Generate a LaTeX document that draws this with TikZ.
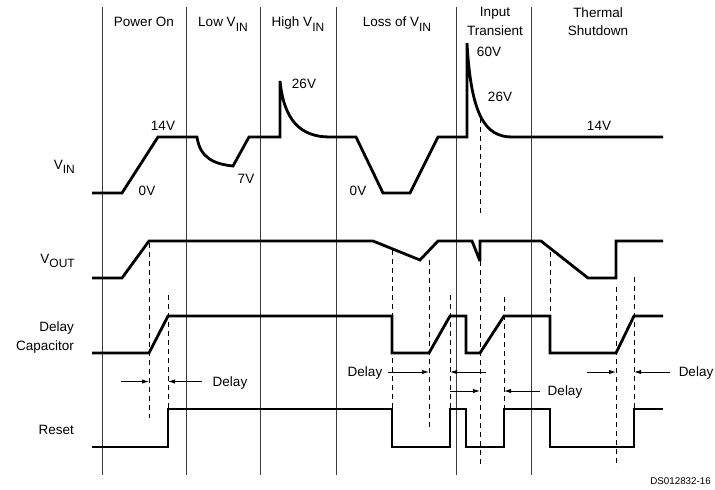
\documentclass[tikz,border=0pt]{standalone}
\usepackage{fontspec}
\setmainfont{Liberation Sans}
\usetikzlibrary{arrows.meta}
\definecolor{ink}{HTML}{000000}
\definecolor{ink2}{HTML}{3C3C3C}
\tikzset{
  >={Latex[length=7pt,width=4.4pt]},
  trace/.style={draw=ink, line width=2.8pt, line join=miter, miter limit=2.5},
  sep/.style={draw=ink2, line width=1pt},
  guide/.style={draw=ink, line width=0.9pt, dash pattern=on 5pt off 4pt},
  dlyarr/.style={->, draw=ink, line width=0.9pt},
  lbl/.style={font=\fontsize{13.5}{16}\selectfont, text=ink, inner sep=0pt, anchor=base},
  siglbl/.style={lbl, anchor=base east},
  tag/.style={font=\fontsize{9.8}{11}\selectfont, text=ink, inner sep=0pt, anchor=base east},
}
\newcommand{\lowsub}[1]{\raisebox{-4.5pt}{\fontsize{12}{14}\selectfont #1}}

\begin{document}
\begin{tikzpicture}[x=1pt, y=-1pt]
  \fill[white] (0,0) rectangle (715,490);
  \useasboundingbox (0,0) rectangle (715,490);

  % ---------------- phase separators ----------------
  \draw[sep] (102.7,7) -- (102.7,475);
  \draw[sep] (186.7,7) -- (186.7,475);
  \draw[sep] (260.7,7) -- (260.7,475);
  \draw[sep] (336,7) -- (336,475);
  \draw[sep] (456.7,7) -- (456.7,475);
  \draw[sep] (531.7,7) -- (531.7,475);

  % ---------------- phase headings ----------------
  \node[lbl] (pwr) at (144,26.7) {Power On};
  \node[lbl] (lowv) at (223,26.7) {Low V\lowsub{IN}};
  \node[lbl] (highv) at (298,26.7) {High V\lowsub{IN}};
  \node[lbl] (lossv) at (397,26.7) {Loss of V\lowsub{IN}};
  \node[lbl] (inp) at (495,16.7) {Input};
  \node[lbl] (trn) at (495,35) {Transient};
  \node[lbl] (thm) at (598,17.3) {Thermal};
  \node[lbl] (shd) at (598,35) {Shutdown};

  % ---------------- signal names ----------------
  \node[siglbl] (vin) at (75,169) {V\lowsub{IN}};
  \node[siglbl] (vout) at (75,263) {V\lowsub{OUT}};
  \node[siglbl] (dcap) at (74,331.7) {Delay};
  \node[siglbl] (dcap2) at (74,350) {Capacitor};
  \node[siglbl] (rst) at (74,434) {Reset};

  % ---------------- timing guides ----------------
  \draw[guide] (149,243) -- (149,418);
  \draw[guide] (168,295) -- (168,408);
  \draw[guide] (392,250) -- (392,408);
  \draw[guide] (429,260) -- (429,428);
  \draw[guide] (450,295) -- (450,408);
  \draw[guide] (480,118) -- (480,213);
  \draw[guide] (480,261) -- (480,466);
  \draw[guide] (504,297) -- (504,408);
  \draw[guide] (550,252) -- (550,316);
  \draw[guide] (616,287) -- (616,467);
  \draw[guide] (634,277) -- (634,410);

  % ---------------- V_IN ----------------
  \draw[trace] (92,193) -- (122,193) -- (158,137) -- (197,137)
    .. controls (200,158) and (214,164) .. (233,166) -- (249,137) -- (280,137)
    -- (280,81) .. controls (284,120) and (300,137) .. (330,137)
    -- (356,137) -- (383,193) -- (410,193) -- (438,137) -- (467,137)
    -- (467,43) .. controls (471,115) and (485,137) .. (512,137) -- (663,137);
  \node[lbl] (v14a) at (163,130) {14V};
  \node[lbl] (v0a) at (147,195) {0V};
  \node[lbl] (v7) at (246,183.3) {7V};
  \node[lbl] (v26a) at (304,88.3) {26V};
  \node[lbl] (v0b) at (358,195) {0V};
  \node[lbl] (v60) at (489,56) {60V};
  \node[lbl] (v26b) at (500,101.7) {26V};
  \node[lbl] (v14b) at (599,130) {14V};

  % ---------------- V_OUT ----------------
  \draw[trace] (92,278) -- (122,278) -- (149,241) -- (373,241) -- (420,260)
    -- (438,241) -- (472,241) -- (480,261) -- (480,241) -- (541,241)
    -- (588,278) -- (616,278) -- (616,241) -- (663,241);

  % ---------------- delay capacitor ----------------
  \draw[trace] (92,353) -- (149,353) -- (168,316) -- (392,316) -- (392,353)
    -- (429,353) -- (450,316) -- (466,316) -- (466,353) -- (480,353)
    -- (504,316) -- (550,316) -- (550,353) -- (616,353) -- (634,316) -- (663,316);

  % ---------------- reset ----------------
  \draw[trace] (92,447) -- (168,447) -- (168,409) -- (392,409) -- (392,447)
    -- (450,447) -- (450,409) -- (466,409) -- (466,447) -- (504,447)
    -- (504,409) -- (550,409) -- (550,447) -- (634,447) -- (634,409) -- (663,409);

  % ---------------- delay markers ----------------
  \draw[dlyarr] (121,381.5) -- (149,381.5);
  \draw[dlyarr] (202,381.5) -- (168,381.5);
  \node[lbl] (dly1) at (230,386.3) {Delay};
  \node[lbl] (dly2) at (365,376.6) {Delay};
  \draw[dlyarr] (388,372) -- (429,372);
  \draw[dlyarr] (486,372) -- (450,372);
  \draw[dlyarr] (450,391) -- (480,391);
  \draw[dlyarr] (540,391) -- (504,391);
  \node[lbl] (dly3) at (565,395.6) {Delay};
  \draw[dlyarr] (587,372) -- (616,372);
  \draw[dlyarr] (670,372) -- (634,372);
  \node[lbl] (dly4) at (696,376.6) {Delay};

  \node[tag] (dsid) at (711,484) {DS012832-16};
\end{tikzpicture}
\end{document}
